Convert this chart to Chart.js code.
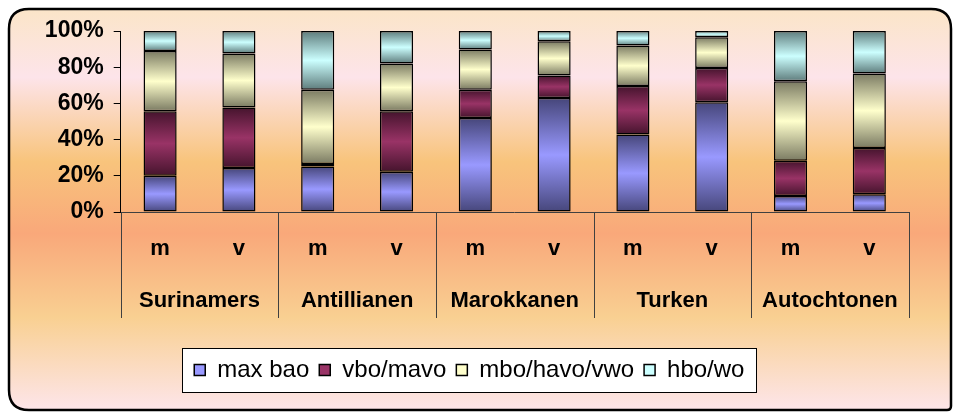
<!DOCTYPE html>
<html>
<head>
<meta charset="utf-8">
<title>Opleidingsniveau naar herkomst en geslacht</title>
<script src="https://cdn.jsdelivr.net/npm/chart.js@4/dist/chart.umd.min.js"></script>
<style>
  html, body { margin: 0; padding: 0; background: #fff; }
  canvas { display: block; }
</style>
</head>
<body>
<canvas id="chart" width="954" height="412"></canvas>
<script>
// m = man, v = vrouw, per herkomstgroep
const categories = ["m", "v", "m", "v", "m", "v", "m", "v", "m", "v"];
const groups = ["Surinamers", "Antillianen", "Marokkanen", "Turken", "Autochtonen"];
const yTicks = [0, 20, 40, 60, 80, 100];

const maxBao = [20, 24.3, 25.2, 22.2, 52, 63, 42.8, 60.7, 8.9, 9.8];
const vboMavo = [35.6, 33.5, 1.3, 33.4, 15.6, 12.4, 26.8, 18.9, 19.4, 25.6];
const mboHavoVwo = [33.3, 29.8, 41.1, 26.4, 22.2, 18.9, 22.4, 16.9, 43.9, 41.1];
const hboWo = [11.1, 12.4, 32.4, 18, 10.2, 5.7, 8, 3.5, 27.8, 23.5];

const seriesNames = ["max bao", "vbo/mavo", "mbo/havo/vwo", "hbo/wo"];
const seriesData = [maxBao, vboMavo, mboHavoVwo, hboWo];
// light (middle) and dark (edge) tone of each segment
const lightColors = ["#9999ff", "#993366", "#ffffcc", "#ccffff"];
const darkColors = ["#46467a", "#45142d", "#7a7a62", "#5e7c7c"];

const FONT = "'Liberation Sans', Arial, sans-serif";

// banded fill: dark at top and bottom of each segment, light in the middle
function segmentFill(ctx) {
  const di = ctx.datasetIndex;
  if (ctx.type !== "data") return lightColors[di];
  const chart = ctx.chart;
  const y = chart.scales.y;
  if (!y) return lightColors[di];
  const i = ctx.dataIndex;
  let start = 0;
  for (let k = 0; k < di; k++) start += seriesData[k][i];
  const end = start + seriesData[di][i];
  const top = y.getPixelForValue(end);
  const bot = y.getPixelForValue(start);
  if (!isFinite(top) || !isFinite(bot) || bot - top < 1) return lightColors[di];
  const g = chart.ctx.createLinearGradient(0, top, 0, bot);
  g.addColorStop(0, darkColors[di]);
  g.addColorStop(0.5, lightColors[di]);
  g.addColorStop(1, darkColors[di]);
  return g;
}

// rounded panel with the warm vertical gradient + group separators
const panelPlugin = {
  id: "panel",
  beforeDraw(chart) {
    const c = chart.ctx;
    c.save();
    c.fillStyle = "#ffffff";
    c.fillRect(0, 0, chart.width, chart.height);
    const x0 = 9, y0 = 9, x1 = 951, y1 = 410, r = 20;
    c.beginPath();
    c.moveTo(x0 + r, y0);
    c.lineTo(x1 - r, y0);
    c.quadraticCurveTo(x1, y0, x1, y0 + r);
    c.lineTo(x1, y1 - 4);
    c.quadraticCurveTo(x1, y1, x1 - 4, y1);
    c.lineTo(x0 + r, y1);
    c.quadraticCurveTo(x0, y1, x0, y1 - r);
    c.lineTo(x0, y0 + r);
    c.quadraticCurveTo(x0, y0, x0 + r, y0);
    c.closePath();
    const g = c.createLinearGradient(0, y0, 0, y1);
    g.addColorStop(0.0, "#fbe5c8");
    g.addColorStop(0.17, "#fde4ea");
    g.addColorStop(0.38, "#f8c47c");
    g.addColorStop(0.56, "#f9a87a");
    g.addColorStop(0.77, "#f9d092");
    g.addColorStop(1.0, "#fde5ea");
    c.fillStyle = g;
    c.fill();
    c.lineWidth = 2.5;
    c.strokeStyle = "#000";
    c.stroke();
    c.restore();
  },
  beforeDatasetsDraw(chart) {
    const x = chart.scales.x;
    const x2 = chart.scales.x2;
    const c = chart.ctx;
    c.save();
    c.strokeStyle = "#404040";
    c.lineWidth = 1;
    for (let i = 0; i <= groups.length; i++) {
      const px = Math.round(x.left + (i * x.width) / groups.length) + 0.5;
      c.beginPath();
      c.moveTo(px, chart.chartArea.bottom);
      c.lineTo(px, x2.top + 43);
      c.stroke();
    }
    c.restore();
  },
};

// white framed box behind the legend items
const legendBgPlugin = {
  id: "legendBg",
  beforeDraw(chart) {
    const boxes = chart.legend && chart.legend.legendHitBoxes;
    if (!boxes || !boxes.length) return;
    let l = Infinity, r = -Infinity, t = Infinity, b = -Infinity;
    boxes.forEach((h) => {
      l = Math.min(l, h.left);
      r = Math.max(r, h.left + h.width);
      t = Math.min(t, h.top);
      b = Math.max(b, h.top + h.height);
    });
    const c = chart.ctx;
    c.save();
    c.fillStyle = "#fff";
    c.strokeStyle = "#000";
    c.lineWidth = 1;
    const bx = Math.round(l - 12) + 0.5, by = Math.round(t - 10) + 0.5;
    const bw = Math.round(r - l + 24), bh = Math.round(b - t + 20);
    c.fillRect(bx, by, bw, bh);
    c.strokeRect(bx, by, bw, bh);
    c.restore();
  },
};

new Chart(document.getElementById("chart"), {
  type: "bar",
  data: {
    labels: categories,
    datasets: seriesData.map((d, i) => ({
      label: seriesNames[i],
      data: d,
      backgroundColor: segmentFill,
      borderColor: "#000",
      borderWidth: 1.5,
      borderSkipped: false,
      barPercentage: 0.42,
      categoryPercentage: 1,
    })),
  },
  options: {
    responsive: false,
    animation: false,
    layout: { padding: { top: 31, left: 30, right: 45.3, bottom: 20 } },
    plugins: {
      tooltip: { enabled: false },
      legend: {
        position: "bottom",
        labels: {
          boxWidth: 11,
          boxHeight: 11,
          padding: 10,
          color: "#000",
          font: { family: FONT, size: 24 },
          generateLabels: () =>
            seriesNames.map((n, i) => ({
              text: n,
              fillStyle: lightColors[i],
              strokeStyle: "#000",
              lineWidth: 1.5,
              datasetIndex: i,
            })),
        },
      },
    },
    scales: {
      x: {
        stacked: true,
        offset: true,
        grid: { display: false, drawTicks: false },
        border: { display: true, color: "#404040", width: 1 },
        ticks: {
          color: "#000",
          padding: 24,
          maxRotation: 0,
          autoSkip: false,
          font: { family: FONT, size: 22, weight: "bold" },
        },
        afterFit: (s) => { s.height = 63; },
      },
      x2: {
        type: "category",
        position: "bottom",
        labels: groups,
        offset: true,
        grid: { display: false, drawTicks: false },
        border: { display: false },
        ticks: {
          color: "#000",
          padding: 13,
          maxRotation: 0,
          autoSkip: false,
          font: { family: FONT, size: 22, weight: "bold" },
        },
        afterFit: (s) => { s.height = 73; },
      },
      y: {
        stacked: true,
        min: 0,
        max: 100,
        afterBuildTicks: (s) => { s.ticks = yTicks.map((v) => ({ value: v })); },
        grid: { drawOnChartArea: false, drawTicks: true, tickLength: 7, color: "#000" },
        border: { display: true, color: "#000", width: 1 },
        ticks: {
          color: "#000",
          padding: 10,
          font: { family: FONT, size: 23, weight: "bold" },
          callback: (v) => v + "%",
        },
        afterFit: (s) => { s.width = 90.7; },
      },
    },
  },
  plugins: [panelPlugin, legendBgPlugin],
});
</script>
</body>
</html>
